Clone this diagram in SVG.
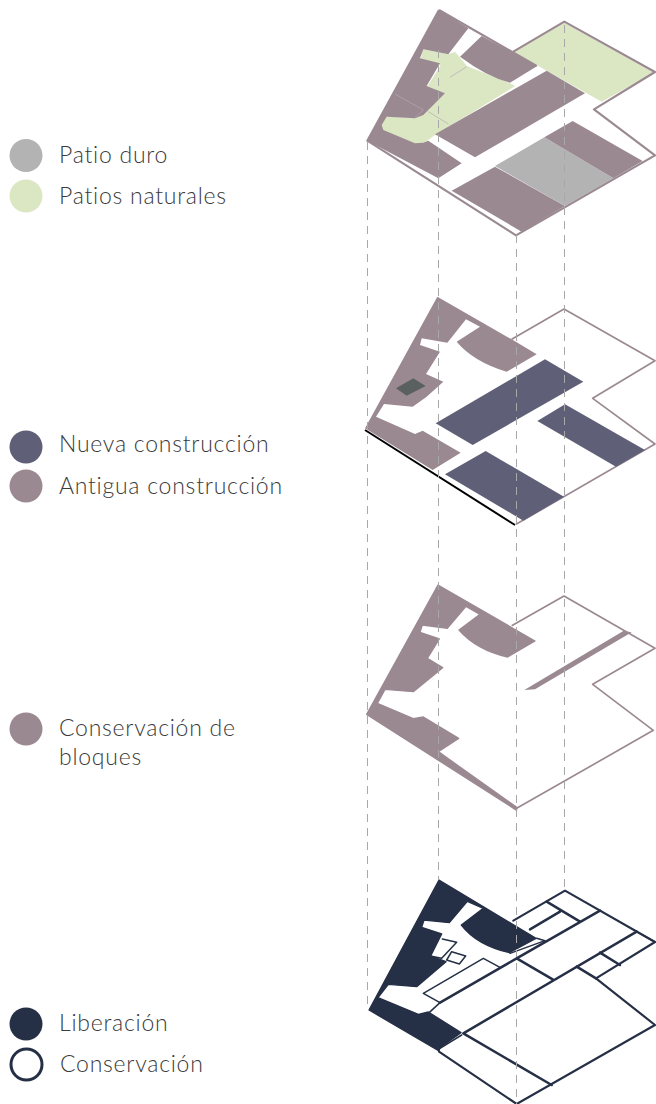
<svg xmlns="http://www.w3.org/2000/svg" width="656" height="1104" viewBox="0 0 656 1104">
<style>
.m{fill:#9b8992}.g{fill:#dbe6c3}.h{fill:#b3b3b3}.b{fill:#5f5f78}
.r{stroke:#9b8992;stroke-width:4;stroke-linejoin:round}
.o{fill:none;stroke:#9b8992;stroke-linejoin:round}
.n{fill:#252f45;stroke:#252f45;stroke-width:4;stroke-linejoin:round}.l{fill:none;stroke:#252f45;stroke-linejoin:round;stroke-linecap:round}
.i{fill:none;stroke:#b5a9b0;stroke-width:2}
.d{stroke:#a8a8a8;stroke-width:1;stroke-dasharray:8 6;fill:none}
text{font-family:Lato,"Noto Sans",sans-serif;font-weight:300;font-size:23px;letter-spacing:.75px;fill:#3a3a3a}
</style>
<rect width="656" height="1104" fill="#fff"/>
<g id="layer-patios" transform="translate(360 0) scale(.33333)">
<path class="g" d="M460,155L613,68L882,218L725,305L680,280L560,212L530,195Z"/>
<path class="g" d="M188,150L265,165L285,158L320,200L440,248L462,258L225,403L190,428L165,430L70,390L65,375L80,352L165,355L205,330L258,280L205,258L245,195L185,178Z" stroke="#dbe6c3" stroke-width="4" stroke-linejoin="round"/>
<path class="m" d="M237,30L325,85L265,163L190,148L180,175L240,190L200,258L255,280L190,345L165,355L80,350L65,375L70,390L165,430L190,428L205,422L305,490L235,535L22,422Z"/>
<path class="m" d="M365,108L532,198L450,248Q380,230 300,170Z"/>
<path class="m" d="M560,212L675,280L345,472L225,403Z"/>
<path class="m" d="M405,500L275,572L485,695L615,618Z"/>
<path class="h" d="M405,498L553,412L760,535L615,618Z"/>
<path class="m" d="M553,412L638,363L848,483L760,535Z"/>
<path class="i" d="M105,282L190,330L165,352M205,335L265,372M270,232L320,200"/>
<path class="o" stroke-width="6.500" d="M237,30L22,422L468,706L885,466L702,328L885,216L613,65L460,155M237,30L530,198"/>
</g>
<g id="layer-construccion" transform="translate(360 290) scale(.33333)">
<path class="o" stroke-width="5" d="M455,148L612,57L885,212L698,325L885,462L468,703"/>
<path class="m" d="M232,20L455,148L530,193L440,245Q340,215 290,155L360,110L318,88L262,158L185,145L180,165L240,185L198,252L250,275L200,320L158,350L72,342L48,380L165,432L188,422L302,488L218,540L15,415Z"/>
<path fill="#5a6060" d="M108,295L160,265L197,288L140,317Z"/>
<path class="b" d="M555,208L670,275L338,465L227,400Z"/>
<path class="b" d="M615,343L855,480L768,530L532,393Z"/>
<path class="b" d="M377,483L612,620L490,692L255,553Z"/>
<path fill="none" stroke="#000" stroke-width="6" d="M15,420L465,705"/>
</g>
<g id="layer-conservacion" transform="translate(360 575) scale(.33333)">
<path class="o" stroke-width="5" d="M455,152L612,63L885,220L698,328L880,466L470,700"/>
<path class="m r" d="M234,30L525,198L443,246Q350,225 297,165L360,118L318,94L262,160L187,150L180,172L238,192L202,250L248,278L160,350L75,343L52,385L160,431L190,426L296,490L235,530L470,697L470,706L20,418Z"/>
<path class="m" d="M790,168L815,172L525,343L493,345Z"/>
</g>
<g id="layer-liberacion" transform="translate(360 870) scale(.33333)">
<path class="n" d="M237,30L528,205L448,248Q350,225 304,165L370,115L322,94L268,158L192,150L185,172L245,192L212,258L258,275L170,350L85,343L54,383L175,433L205,426L303,488L240,533L237,543L27,420Z"/>
<g class="l">
<path stroke-width="6.500" d="M460,152L615,62L885,216L708,325L885,465L470,702L237,545"/>
<path stroke-width="4.500" d="M247,207L290,217L245,265L210,258M260,270L275,245L317,258L298,282Z"/>
<path stroke-width="4.500" d="M420,292L370,265L190,370L240,398L205,430"/>
<path stroke-width="7.500" d="M240,398L470,265L720,122M310,490L830,185M470,265L578,328M310,490L575,645"/>
<path stroke-width="7.500" d="M560,95L660,155M600,125L510,178M650,290L708,325M720,248L780,285"/>
<path stroke-width="4.500" d="M530,205L555,212L450,250M240,535L305,495M830,185L885,216"/>
</g>
</g>
<g id="connectors">
<path class="d" d="M367.500 142V1008"/>
<path class="d" d="M438.500 50V880"/>
<path class="d" d="M516.500 235V1104"/>
<path class="d" d="M564.500 25V890"/>
</g>
<g id="legend-patio-duro"><circle cx="26" cy="155.500" r="16.500" fill="#b3b3b3"/><text x="59" y="163">Patio duro</text></g>
<g id="legend-patios-naturales"><circle cx="26" cy="196" r="16.500" fill="#dbe6c3"/><text x="59" y="204">Patios naturales</text></g>
<g id="legend-nueva"><circle cx="26" cy="447" r="16.500" fill="#5f5f78"/><text x="59" y="452">Nueva construcción</text></g>
<g id="legend-antigua"><circle cx="26" cy="486" r="16.500" fill="#9b8992"/><text x="59" y="494">Antigua construcción</text></g>
<g id="legend-conservacion-bloques"><circle cx="26" cy="729" r="16.500" fill="#9b8992"/><text x="59" y="736">Conservación de</text><text x="59" y="765">bloques</text></g>
<g id="legend-liberacion"><circle cx="26" cy="1024" r="16.500" fill="#252f45"/><text x="59" y="1031">Liberación</text></g>
<g id="legend-conservacion"><circle cx="26.500" cy="1064.500" r="15.500" fill="#fff" stroke="#252f45" stroke-width="3"/><text x="60" y="1072">Conservación</text></g>
</svg>
